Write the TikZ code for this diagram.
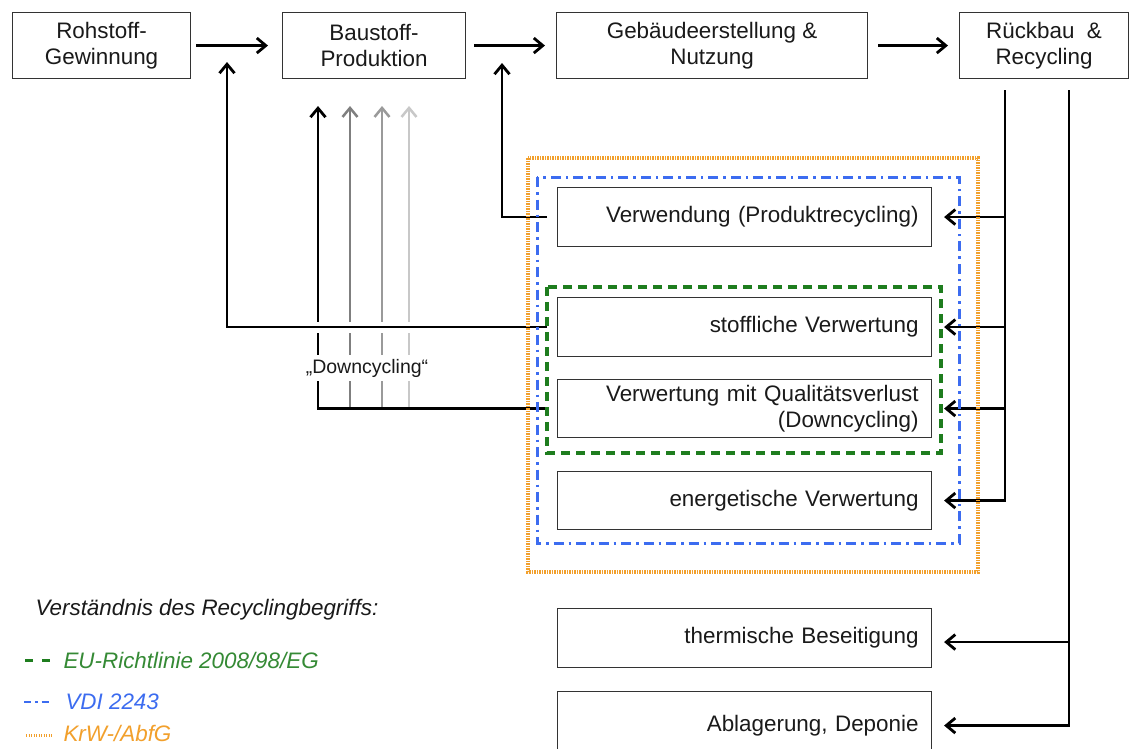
\documentclass[tikz,border=0pt]{standalone}
\usepackage{fontspec}
\setmainfont{Liberation Sans}
\usetikzlibrary{arrows.meta}
\definecolor{txt}{HTML}{1A1A1A}
\definecolor{frgreen}{HTML}{1E7D1E}
\definecolor{frblue}{HTML}{3C6CF0}
\definecolor{frorange}{HTML}{F2A02C}
\definecolor{gA}{HTML}{7F7F7F}
\definecolor{gB}{HTML}{9A9A9A}
\definecolor{gC}{HTML}{C8C8C8}
\newcommand\mainsz{\fontsize{22.4}{25.5}\selectfont}
\begin{document}
\begin{tikzpicture}[x=1pt,y=-1pt,
  box/.style={draw=black!80, line width=1.1pt, inner sep=0pt, anchor=north west, text=txt, font=\mainsz},
  topbox/.style={box, minimum height=66pt, align=center},
  inbox/.style={box, text width=348pt, inner xsep=13pt, inner ysep=0pt, minimum height=59pt, align=right},
  arr/.style={line width=2.8pt, draw=black, -{Straight Barb[length=9pt,width=15pt]}},
  garr/.style={line width=2.5pt, -{Straight Barb[length=9pt,width=15pt]}},
  bridge/.style={preaction={draw=white, line width=11pt, -}},
  greenfr/.style={draw=frgreen, line width=3.4pt, dash pattern=on 9pt off 6pt},
  bluefr/.style={draw=frblue, line width=3pt, dash pattern=on 10pt off 5pt on 2.5pt off 5pt},
  orangefr/.style={draw=frorange, line width=3.4pt, dash pattern=on 1.5pt off 1pt},
  legtext/.style={anchor=base west, font=\mainsz\itshape}
]
\useasboundingbox (0,0) rectangle (1129,748);
\fill[white] (0,0) rectangle (1129,748);

% top row
\node[topbox, minimum width=178pt] (A) at (12,12) {Rohstoff-\\Gewinnung};
\node[topbox, minimum width=183pt] (B) at (282,12) {Baustoff-\\Produktion};
\node[topbox, minimum width=311pt] (C) at (556,12) {Gebäudeerstellung \&\\Nutzung};
\node[topbox, minimum width=169pt] (D) at (959,12) {Rückbau\ \ \&\\Recycling};

\draw[arr] ([xshift=5pt]A.east) -- ([xshift=-14pt]B.west);
\draw[arr] ([xshift=8pt]B.east) -- ([xshift=-11pt]C.west);
\draw[arr] ([xshift=10pt]C.east) -- ([xshift=-11pt]D.west);

% recovery boxes
\node[inbox] (V1) at (557,187) {Verwendung (Produktrecycling)};
\node[inbox] (V2) at (557,297) {stoffliche Verwertung};
\node[inbox, minimum height=58pt] (V3) at (557,379) {Verwertung mit Qualitätsverlust\\(Downcycling)};
\node[inbox, minimum height=58pt] (V4) at (557,471) {energetische Verwertung};
\node[inbox] (T1) at (557,608) {thermische Beseitigung};
\node[inbox, minimum height=68pt] (T2) at (557,691) {Ablagerung, Deponie};

% trunks from Rückbau & Recycling
\coordinate (r1) at (1005,90);
\coordinate (r2) at (1069,90);
\draw[arr] (r1) |- ([xshift=12pt]V1.east);
\draw[arr] (r1) |- ([xshift=12pt]V2.east);
\draw[arr] (r1) |- ([xshift=12pt]V3.east);
\draw[arr] (r1) |- ([xshift=12pt]V4.east);
\draw[arr] (r2) |- ([xshift=12pt,yshift=-4pt]T1.east);
\draw[arr] (r2) |- ([xshift=12pt]T2.east);

% downcycling arrows
\coordinate (d1) at (318,106);
\coordinate (g1s) at (350,409); \coordinate (g1) at (350,106);
\coordinate (g2s) at (382,409); \coordinate (g2) at (382,106);
\coordinate (g3s) at (409,409); \coordinate (g3) at (409,106);
\draw[garr, draw=gC] (g3s) -- (g3);
\draw[garr, draw=gB] (g2s) -- (g2);
\draw[garr, draw=gA] (g1s) -- (g1);
\draw[arr] ([xshift=-10pt]V3.west) -| (d1);

% loops back
\coordinate (lt) at (227,62);
\coordinate (vt) at (502,63);
\draw[arr, bridge] ([xshift=-10pt]V2.west) -| (lt);
\draw[arr] ([xshift=-10pt]V1.west) -| (vt);

\node[fill=white, inner xsep=1pt, inner ysep=4pt, text=txt, font=\fontsize{19.5}{22}\selectfont] (dc) at (367,368) {„Downcycling“};

% frames
\draw[orangefr] (528,158) rectangle (978,572);
\draw[bluefr] (537,177) rectangle (959,543);
\draw[greenfr] (547,287) rectangle (941,453);

% legend
\node[legtext, text=txt] (lg) at (32,615) {Verständnis des Recyclingbegriffs:};
\coordinate (la1) at (25,660); \coordinate (lb1) at (51,660);
\draw[draw=frgreen, line width=3pt, dash pattern=on 8pt off 9pt] (la1) -- (lb1);
\node[legtext, text=frgreen!90!white] (l1) at (60,668) {EU-Richtlinie 2008/98/EG};
\coordinate (la2) at (24,702); \coordinate (lb2) at (51,702);
\draw[draw=frblue, line width=2.8pt, dash pattern=on 7pt off 4pt on 2.5pt off 4pt] (la2) -- (lb2);
\node[legtext, text=frblue] (l2) at (62,709) {VDI 2243};
\coordinate (la3) at (26,735); \coordinate (lb3) at (53,735);
\draw[draw=frorange, line width=3pt, dash pattern=on 1.4pt off 1.1pt] (la3) -- (lb3);
\node[legtext, text=frorange] (l3) at (60,741) {KrW-/AbfG};
\end{tikzpicture}
\end{document}
